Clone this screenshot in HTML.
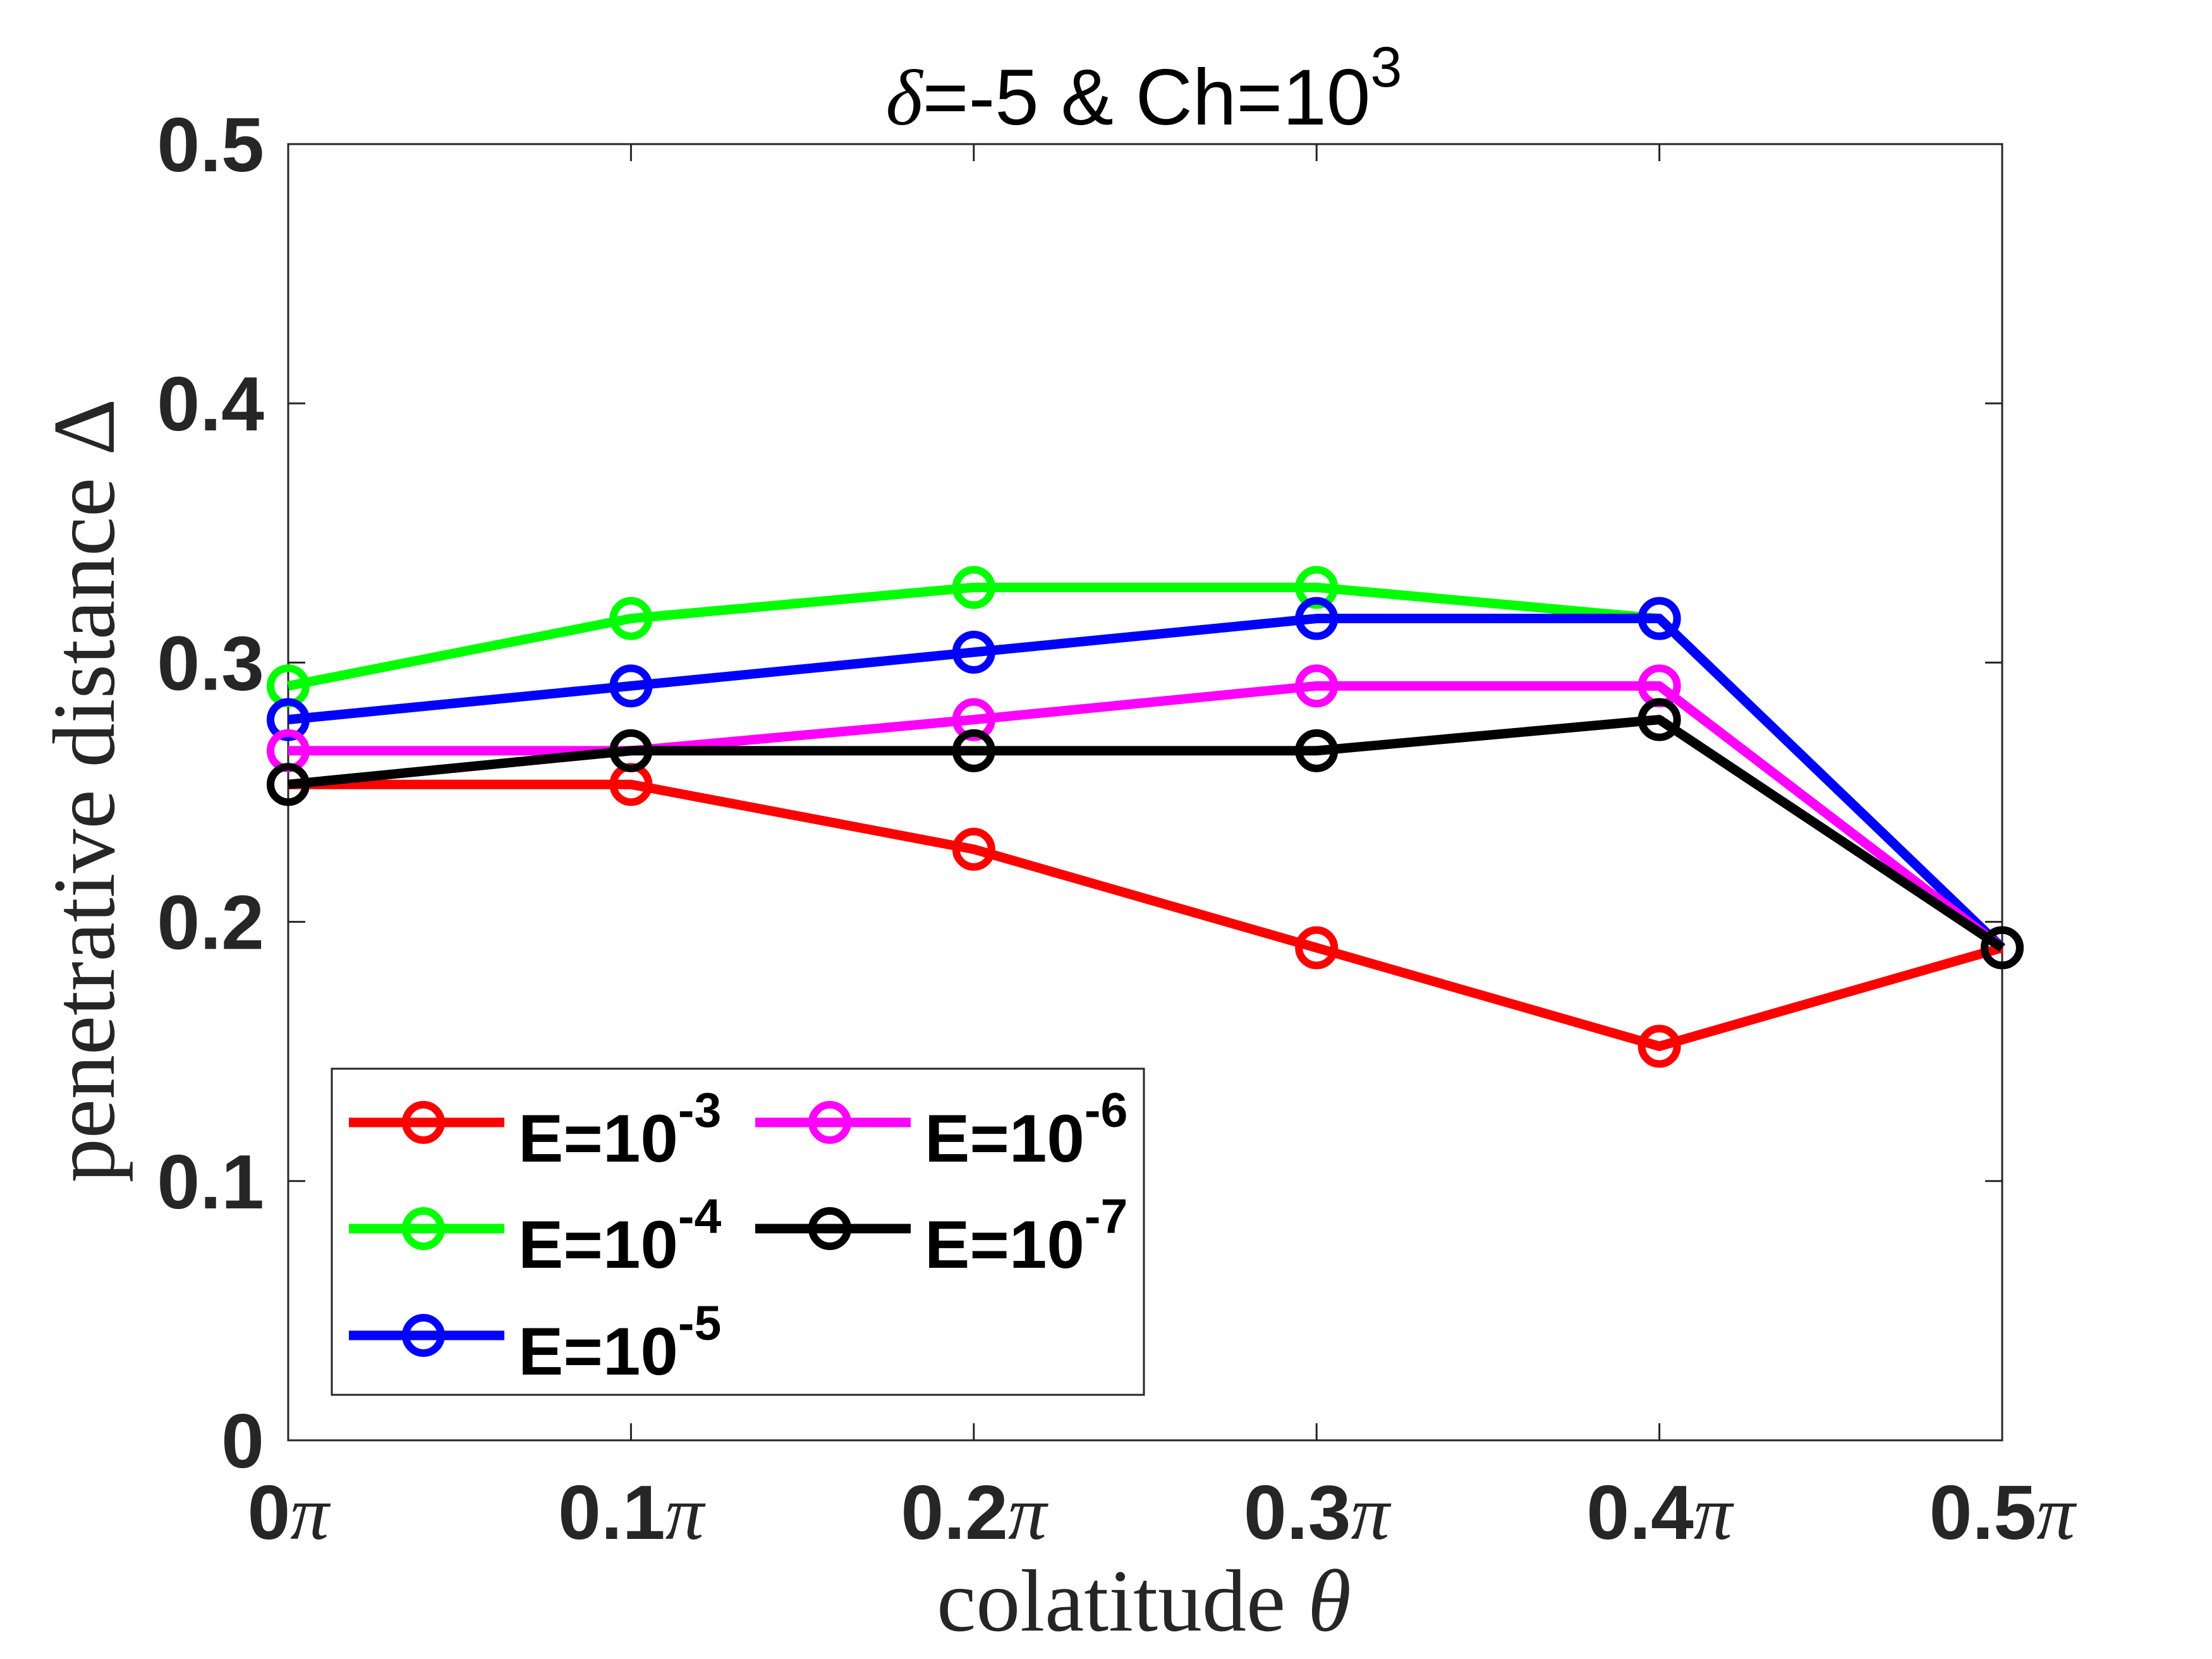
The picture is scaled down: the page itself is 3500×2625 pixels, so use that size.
<!DOCTYPE html>
<html><head><meta charset="utf-8"><style>html,body{margin:0;padding:0;background:#fff}svg{display:block}</style></head>
<body>
<svg id="chart" width="3500" height="2625" viewBox="0 0 3500 2625" xmlns="http://www.w3.org/2000/svg">
<rect x="0" y="0" width="3500" height="2625" fill="#fff"/>
<g id="plot"></g>
</svg>
<script>
const xCategories = [0, 0.1, 0.2, 0.3, 0.4, 0.5];
const xTickLabels = ["0", "0.1", "0.2", "0.3", "0.4", "0.5"];
const yTicks = [0, 0.1, 0.2, 0.3, 0.4, 0.5];
const yTickLabels = ["0", "0.1", "0.2", "0.3", "0.4", "0.5"];
const seriesE3 = [0.253, 0.253, 0.228, 0.190, 0.152, 0.190];
const seriesE4 = [0.291, 0.317, 0.329, 0.329, 0.317, 0.190];
const seriesE5 = [0.278, 0.291, 0.304, 0.317, 0.317, 0.190];
const seriesE6 = [0.266, 0.266, 0.278, 0.291, 0.291, 0.190];
const seriesE7 = [0.253, 0.266, 0.266, 0.266, 0.278, 0.190];
const seriesNames = ["-3", "-4", "-5", "-6", "-7"];

const NS = "http://www.w3.org/2000/svg";
const L = 456, R = 3168, T = 228, B = 2279;
const xs = v => L + (v - 0) / 0.5 * (R - L);
const ys = v => B - (v - 0) / 0.5 * (B - T);
const g = document.getElementById('plot');
function mk(tag, attrs, parent) {
  const e = document.createElementNS(NS, tag);
  for (const k in attrs) e.setAttribute(k, attrs[k]);
  (parent || g).appendChild(e);
  return e;
}

const box = mk('rect', {x: L, y: T, width: R - L, height: B - T, fill: 'none', stroke: '#262626', 'stroke-width': 3});



xCategories.forEach((v, i) => {
  const x = xs(v);
  const t1 = mk('line', {x1: x, y1: B, x2: x, y2: B - 27, stroke: '#262626', 'stroke-width': 3});
  
  
  const t2 = mk('line', {x1: x, y1: T, x2: x, y2: T + 27, stroke: '#262626', 'stroke-width': 3});
  
  
  const lb = mk('text', {x: x, y: 2435, 'text-anchor': 'middle', 'font-family': 'Liberation Sans, sans-serif', 'font-weight': 'bold', 'font-size': 122, fill: '#262626'});
  lb.innerHTML = xTickLabels[i] + '<tspan font-family="Liberation Serif, serif" font-style="italic" font-weight="normal">\u03c0</tspan>';
  
  
});
yTicks.forEach((v, i) => {
  const y = ys(v);
  const t1 = mk('line', {x1: L, y1: y, x2: L + 27, y2: y, stroke: '#262626', 'stroke-width': 3});
  
  
  const t2 = mk('line', {x1: R, y1: y, x2: R - 27, y2: y, stroke: '#262626', 'stroke-width': 3});
  
  
  const lb = mk('text', {x: 418, y: y + 43, 'text-anchor': 'end', 'font-family': 'Liberation Sans, sans-serif', 'font-weight': 'bold', 'font-size': 122, fill: '#262626'});
  lb.textContent = yTickLabels[i];
  
  
});

const allSeries = [seriesE3, seriesE4, seriesE5, seriesE6, seriesE7];
const colors = ['#ff0000', '#00ff00', '#0000ff', '#ff00ff', '#000000'];
allSeries.forEach((s, si) => {
  const sg = mk('g', {});
  
  
  const pts = s.map((v, i) => xs(xCategories[i]) + ',' + ys(v)).join(' ');
  const pl = mk('polyline', {points: pts, fill: 'none', stroke: colors[si], 'stroke-width': 15, 'stroke-linejoin': 'round'}, sg);
  
  
  s.forEach((v, i) => {
    const c = mk('circle', {cx: xs(xCategories[i]), cy: ys(v), r: 28, fill: 'none', stroke: colors[si], 'stroke-width': 12}, sg);
    
    
  });
});

const lg = mk('g', {});


const lbox = mk('rect', {x: 525, y: 1691, width: 1285, height: 516, fill: '#fff', stroke: '#262626', 'stroke-width': 3}, lg);


const pos = [[552, 1776], [552, 1944], [552, 2113], [1195, 1776], [1195, 1944]];
allSeries.forEach((s, si) => {
  const [x0, y0] = pos[si];
  const eg = mk('g', {}, lg);
  
  
  mk('line', {x1: x0, y1: y0, x2: x0 + 246, y2: y0, stroke: colors[si], 'stroke-width': 15}, eg);
  mk('circle', {cx: x0 + 118, cy: y0, r: 28, fill: 'none', stroke: colors[si], 'stroke-width': 12}, eg);
  const t = mk('text', {x: x0 + 268, y: y0 + 62, 'font-family': 'Liberation Sans, sans-serif', 'font-weight': 'bold', 'font-size': 107, fill: '#000'}, eg);
  t.innerHTML = 'E=10<tspan dy="-55" font-size="77">' + seriesNames[si] + '</tspan>';
});

const title = mk('text', {x: 1810, y: 197, 'text-anchor': 'middle', 'font-family': 'Liberation Sans, sans-serif', 'font-size': 125, fill: '#000'});
title.innerHTML = '<tspan font-family="Liberation Serif, serif" font-style="italic">\u03b4</tspan>=-5 &amp; Ch=10<tspan dy="-60" font-size="90">3</tspan>';


const xl = mk('text', {x: 1810, y: 2580, 'text-anchor': 'middle', 'font-family': 'Liberation Serif, serif', 'font-size': 140, fill: '#262626'});
xl.innerHTML = 'colatitude <tspan font-style="italic">\u03b8</tspan>';


const yl = mk('text', {x: 0, y: 0, 'text-anchor': 'middle', 'font-family': 'Liberation Serif, serif', 'font-size': 140, fill: '#262626', transform: 'translate(180,1251) rotate(-90)'});
yl.textContent = 'penetrative distance \u0394';


</script>
</body></html>
